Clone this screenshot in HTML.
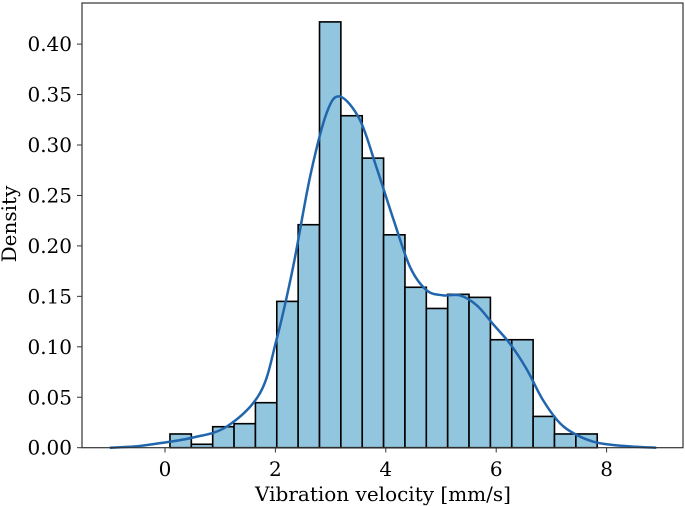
<!DOCTYPE html>
<html><head><meta charset="utf-8"><style>
html,body{margin:0;padding:0;background:#fff;}
svg{display:block;font-family:"DejaVu Serif","Liberation Serif",serif;}
</style></head><body>
<svg id="chart" width="685" height="506">
<g id="bars"></g>
<path id="kde" fill="none" stroke="#2166ac" stroke-width="2.5"/>
<rect x="82" y="3" width="601" height="444.7" fill="none" stroke="#333" stroke-width="1.2"/>
<g id="xticks"></g>
<g id="yticks"></g>
<text x="383" y="501" font-size="20" text-anchor="middle">Vibration velocity [mm/s]</text>
<text transform="translate(16,224) rotate(-90)" font-size="20" text-anchor="middle">Density</text>
</svg>
<script>
const binStart = 0.09;
const binWidth = 0.387;
const densities = [0.0136,0.0034,0.0208,0.0238,0.0446,0.145,0.221,0.422,0.329,0.287,0.211,0.159,0.138,0.152,0.149,0.107,0.107,0.031,0.0136,0.0136];
const kdeX = [-1,-0.5,-0.09,0.5,1.12,1.72,2.02,2.32,2.63,2.93,3.17,3.53,3.83,4.14,4.44,4.74,5.04,5.34,5.65,5.95,6.25,6.55,6.85,7.16,7.46,7.76,8.06,8.5,8.9];
const kdeY = [0,0.0015,0.0045,0.010,0.021,0.054,0.107,0.179,0.269,0.332,0.348,0.325,0.278,0.226,0.179,0.156,0.151,0.151,0.141,0.122,0.103,0.078,0.047,0.024,0.0126,0.006,0.003,0.001,0];
const xTicks = [0,2,4,6,8];
const yTicks = [0,0.05,0.10,0.15,0.20,0.25,0.30,0.35,0.40];
const NS="http://www.w3.org/2000/svg";
const sx = v => 165 + v*55.2;
const sy = v => 447.7 - v*1009;
const bars = document.getElementById('bars');
densities.forEach((d,i)=>{
  const r=document.createElementNS(NS,'rect');
  const x0=sx(binStart+i*binWidth), x1=sx(binStart+(i+1)*binWidth);
  r.setAttribute('x',x0);r.setAttribute('width',x1-x0);
  r.setAttribute('y',sy(d));r.setAttribute('height',sy(0)-sy(d));
  r.setAttribute('fill','#92c5de');r.setAttribute('stroke','#000');r.setAttribute('stroke-width','1.6');
  
  
  bars.appendChild(r);
});
const pts=kdeX.map((x,i)=>[sx(x),sy(kdeY[i])]);
let d='M'+pts[0][0]+','+pts[0][1];
for(let i=0;i<pts.length-1;i++){
  const p0=pts[Math.max(0,i-1)],p1=pts[i],p2=pts[i+1],p3=pts[Math.min(pts.length-1,i+2)];
  const c1=[p1[0]+(p2[0]-p0[0])/6,p1[1]+(p2[1]-p0[1])/6];
  const c2=[p2[0]-(p3[0]-p1[0])/6,p2[1]-(p3[1]-p1[1])/6];
  d+=' C'+c1+' '+c2+' '+p2;
}
document.getElementById('kde').setAttribute('d',d);
const xg=document.getElementById('xticks');
xTicks.forEach(t=>{
  const l=document.createElementNS(NS,'line');
  l.setAttribute('x1',sx(t));l.setAttribute('x2',sx(t));l.setAttribute('y1',447.7);l.setAttribute('y2',452.5);
  l.setAttribute('stroke','#333');
  
  
  xg.appendChild(l);
  const tx=document.createElementNS(NS,'text');
  tx.setAttribute('x',sx(t));tx.setAttribute('y',476);tx.setAttribute('font-size','20');tx.setAttribute('text-anchor','middle');
  tx.textContent=t;
  
  
  xg.appendChild(tx);
});
const yg=document.getElementById('yticks');
yTicks.forEach(t=>{
  const l=document.createElementNS(NS,'line');
  l.setAttribute('x1',77);l.setAttribute('x2',82);l.setAttribute('y1',sy(t));l.setAttribute('y2',sy(t));
  l.setAttribute('stroke','#333');
  
  
  yg.appendChild(l);
  const tx=document.createElementNS(NS,'text');
  tx.setAttribute('x',72);tx.setAttribute('y',sy(t)+7);tx.setAttribute('font-size','20');tx.setAttribute('text-anchor','end');
  tx.textContent=t.toFixed(2);
  
  
  yg.appendChild(tx);
});
</script>
</body></html>
